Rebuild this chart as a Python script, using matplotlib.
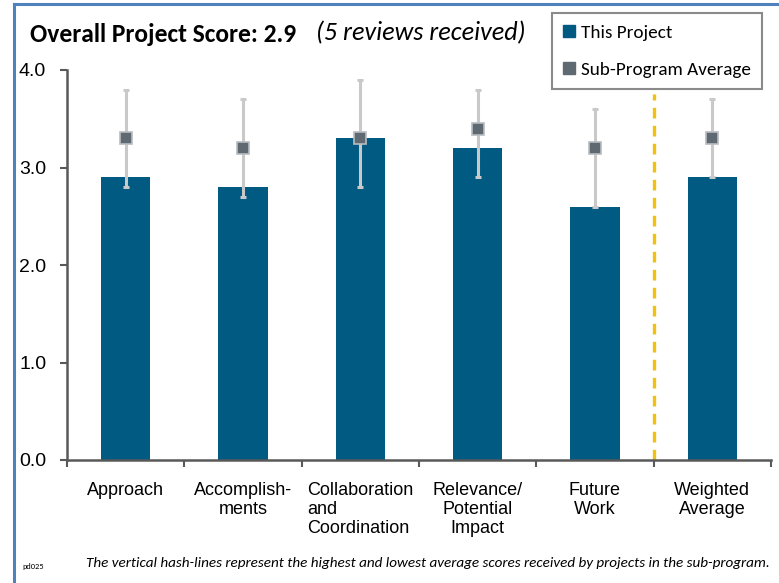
import matplotlib
matplotlib.use("Agg")
import matplotlib.pyplot as plt
from matplotlib.lines import Line2D
from matplotlib import font_manager as fm

categories = ["Approach", "Accomplish-\nments", "Collaboration\nand\nCoordination",
              "Relevance/\nPotential\nImpact", "Future\nWork", "Weighted\nAverage"]
project_scores = [2.9, 2.8, 3.3, 3.2, 2.6, 2.9]
subprogram_avg = [3.3, 3.2, 3.3, 3.4, 3.2, 3.3]
subprogram_low = [2.8, 2.7, 2.8, 2.9, 2.6, 2.9]
subprogram_high = [3.8, 3.7, 3.9, 3.8, 3.6, 3.7]
yticks = [0.0, 1.0, 2.0, 3.0, 4.0]
divider_top = 3.75

names = {f.name for f in fm.fontManager.ttflist}
def pick(*cands):
    for c in cands:
        if c in names:
            return c
    return "DejaVu Sans"

title_font = pick("Carlito", "Lato", "Open Sans")
axis_font = pick("Liberation Sans", "DejaVu Sans")

BAR = "#005a82"
SQ = "#5f6972"
ERR = "#c9c9c9"
SPINE = "#595959"

fig = plt.figure(figsize=(7.79, 5.83), dpi=100)
W, H = 779, 583
ax = fig.add_axes([67 / W, 1 - 460 / H, (771 - 67) / W, (460 - 70) / H])

x = list(range(len(categories)))
ax.bar(x, project_scores, width=0.42, color=BAR, zorder=2)
yerr_lo = [a - l for a, l in zip(subprogram_avg, subprogram_low)]
yerr_hi = [h - a for a, h in zip(subprogram_avg, subprogram_high)]
ax.errorbar(x, subprogram_avg, yerr=[yerr_lo, yerr_hi], fmt="none", ecolor=ERR,
            elinewidth=2.2, capsize=2.5, capthick=2.2, zorder=3)
ax.plot(x, subprogram_avg, ls="none", marker="s", markersize=9, color=SQ,
        markeredgecolor="#b8bcc0", markeredgewidth=1.2, zorder=4)

ax.vlines(4.5, 0, divider_top, colors="#f2c10f", linestyles=(0, (3.2, 2.2)),
          linewidth=2.4, zorder=1)

ax.set_xlim(-0.5, len(categories) - 0.5)
ax.set_ylim(0, 4.0)
ax.set_yticks(yticks)
ax.set_yticklabels([f"{v:.1f}" for v in yticks], fontsize=14, family=axis_font)
ax.set_xticks(x)
ax.set_xticklabels(categories, fontsize=13, family=axis_font, linespacing=1.15, va="top")
ax.get_xticklabels()[2].set_multialignment("left")
ax.set_xticks([i - 0.5 for i in range(len(categories) + 1)], minor=True)
ax.tick_params(axis="x", which="major", length=0, pad=16)
ax.tick_params(axis="x", which="minor", length=5, width=1.5, color=SPINE, direction="out")
ax.tick_params(axis="y", length=5, width=1.5, color=SPINE, pad=10)
for s in ("top", "right"):
    ax.spines[s].set_visible(False)
for s in ("left", "bottom"):
    ax.spines[s].set_color(SPINE)
    ax.spines[s].set_linewidth(1.8)

# figure frame (blue)
fig.add_artist(Line2D([14 / W, 14 / W], [0, 1 - 4 / H], color="#4f81bd", lw=2.2))
fig.add_artist(Line2D([14 / W, 1], [1 - 4 / H, 1 - 4 / H], color="#4f81bd", lw=2.2))

fig.text(30 / W, 1 - 34 / H, "Overall Project Score: 2.9", fontsize=18.4,
         fontweight="bold", family=title_font, va="center", ha="left")
fig.text(316 / W, 1 - 33 / H, "(5 reviews received)", fontsize=18.8,
         style="italic", family=title_font, va="center", ha="left")

handles = [Line2D([], [], ls="none", marker="s", markersize=9, color=BAR, label="This Project"),
           Line2D([], [], ls="none", marker="s", markersize=9, color=SQ, label="Sub-Program Average")]
leg = fig.legend(handles=handles, loc="upper right", bbox_to_anchor=(762 / W, 1 - 13 / H),
                 prop={"family": title_font, "size": 13.8}, frameon=True, fancybox=False,
                 edgecolor="#6d6d6d", handletextpad=0.25, handlelength=0.7,
                 labelspacing=1.08, borderpad=0.58, borderaxespad=0)
leg.get_frame().set_linewidth(1.5)

fig.text(22 / W, 1 - 566 / H, "pd025", fontsize=6, family=title_font, va="center", ha="left")
fig.text(770 / W, 1 - 563 / H,
         "The vertical hash-lines represent the highest and lowest average scores received by projects in the sub-program.",
         fontsize=10.9, style="italic", family=title_font, va="center", ha="right")

fig.savefig("out.png", dpi=100)
